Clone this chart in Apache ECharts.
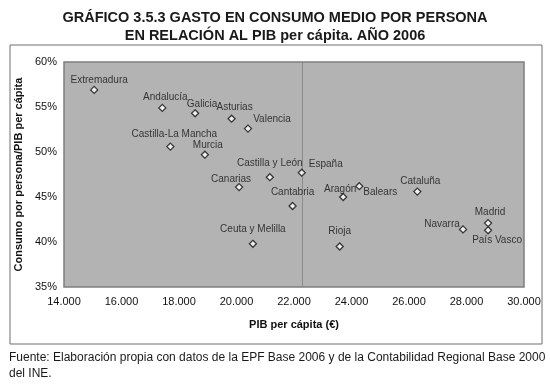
<!DOCTYPE html>
<html>
<head>
<meta charset="utf-8">
<script src="https://cdn.jsdelivr.net/npm/echarts@6/dist/echarts.min.js"></script>
<style>html,body{margin:0;padding:0;background:#fff}#c{width:550px;height:385px}</style>
</head>
<body>
<div id="c"></div>
<script>
var regions = ['Extremadura','Andalucía','Galicia','Asturias','Valencia','Castilla-La Mancha','Murcia','Castilla y León','Canarias','España','Cantabria','Aragón','Balears','Cataluña','Ceuta y Melilla','Rioja','Navarra','Madrid','País Vasco'];
var pibPerCapita = [15050,17420,18560,19830,20400,17700,18900,21160,20090,22270,21950,23710,24270,26290,20570,23590,27880,28750,28750];
var consumoRatio = [56.9,54.9,54.3,53.7,52.6,50.6,49.7,47.2,46.1,47.7,44.0,45.0,46.2,45.6,39.8,39.5,41.4,42.1,41.3];
var xTicks = {min:14000, max:30000, step:2000};
var yTicks = {min:35, max:60, step:5};

// label placement (offset of label centre from marker, px)
var labelOffset = {
  'Extremadura':[5,-10],'Andalucía':[3,-11],'Galicia':[7,-9],'Asturias':[3,-11],
  'Valencia':[24,-9],'Castilla-La Mancha':[4,-12],'Murcia':[3,-9],'Castilla y León':[0,-14],
  'Canarias':[-8,-8],'España':[24,-8],'Cantabria':[0,-14],'Aragón':[-3,-8],
  'Balears':[21,6],'Cataluña':[3,-10],'Ceuta y Melilla':[0,-15],'Rioja':[0,-15],
  'Navarra':[-21,-5],'Madrid':[2,-11],'País Vasco':[9,10]
};

var FONT = 'Liberation Sans, Arial, sans-serif';
var data = regions.map(function(n,i){
  return {name:n, value:[pibPerCapita[i], consumoRatio[i]],
    label:{offset: labelOffset[n] || [0,-10]}};
});
var espIdx = regions.indexOf('España');

var chart = echarts.init(document.getElementById('c'));
chart.setOption({
  animation:false,
  backgroundColor:'#fff',
  title:{
    text:'GRÁFICO 3.5.3 GASTO EN CONSUMO MEDIO POR PERSONA\nEN RELACIÓN AL PIB per cápita. AÑO 2006',
    left:'center', top:4,
    textStyle:{fontFamily:FONT, fontSize:14.5, fontWeight:'bold', color:'#1a1a1a', lineHeight:18}
  },
  graphic:[
    {type:'rect', shape:{x:10,y:45,width:532,height:299}, style:{fill:'none', stroke:'#6e6e6e', lineWidth:1}, z:-10},
    {type:'text', left:9, top:350, style:{text:'Fuente: Elaboración propia con datos de la EPF Base 2006 y de la Contabilidad Regional Base 2000\ndel INE.', font:'12px '+FONT, fill:'#1a1a1a', lineHeight:16}}
  ],
  grid:{left:64, top:62, right:26, bottom:98, show:true, backgroundColor:'#b3b3b3', borderColor:'#7f7f7f', borderWidth:1.5},
  xAxis:{
    type:'value', min:xTicks.min, max:xTicks.max, interval:xTicks.step,
    name:'PIB per cápita (€)', nameLocation:'middle', nameGap:32,
    nameTextStyle:{fontFamily:FONT, fontSize:11, fontWeight:'bold', color:'#111'},
    axisLine:{show:false}, axisTick:{show:false}, splitLine:{show:false},
    axisLabel:{margin:9, fontFamily:FONT, fontSize:11, color:'#111',
      formatter:function(v){return String(v).replace(/\B(?=(\d{3})+(?!\d))/g,'.');}}
  },
  yAxis:{
    type:'value', min:yTicks.min, max:yTicks.max, interval:yTicks.step,
    name:'Consumo por persona/PIB per cápita', nameLocation:'middle', nameGap:40,
    nameTextStyle:{fontFamily:FONT, fontSize:11, fontWeight:'bold', color:'#111'},
    axisLine:{show:false}, axisTick:{show:false}, splitLine:{show:false},
    axisLabel:{margin:7, fontFamily:FONT, fontSize:11, color:'#111', formatter:'{value}%'}
  },
  series:[{
    type:'scatter', symbol:'diamond', symbolSize:7,
    itemStyle:{color:'#fff', borderColor:'#111', borderWidth:1.3},
    label:{show:true, position:'inside', formatter:'{b}', fontFamily:FONT, fontSize:10, color:'#111'},
    markLine:{silent:true, symbol:'none', label:{show:false},
      lineStyle:{color:'#8a8a8a', type:'solid', width:1},
      data:[{xAxis: pibPerCapita[espIdx]}]},
    data:data, z:5
  }]
});
</script>
</body>
</html>
